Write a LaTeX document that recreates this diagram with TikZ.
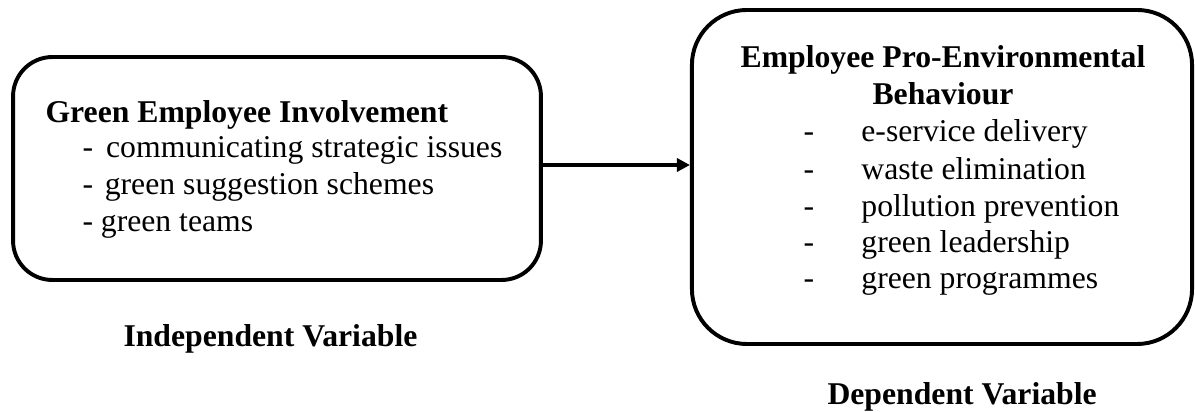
\documentclass[tikz,border=0pt]{standalone}
\usepackage{fontspec}
\setmainfont{Liberation Serif}
\usetikzlibrary{arrows.meta}
\begin{document}
\begin{tikzpicture}[x=0.3817pt,y=-0.3817pt,
  box/.style={draw, line width=1.5pt, inner sep=0pt},
  txt/.style={anchor=base west, inner sep=0pt, font=\fontsize{12.1}{14}\selectfont},
  ttl/.style={anchor=base, inner sep=0pt, font=\fontsize{12.1}{14}\selectfont\bfseries},
  captxt/.style={anchor=base west, inner sep=0pt, font=\fontsize{12.1}{14}\selectfont\bfseries},
  conn/.style={line width=1.5pt, -{Triangle[length=5pt,width=5pt]}}]
\useasboundingbox (0,0) rectangle (1195,412);
% boxes
\node[box, rounded corners=15pt, minimum width=201.5pt, minimum height=85.1pt] (L) at (277,168.5) {};
\node[box, rounded corners=21pt, minimum width=190.9pt, minimum height=127.5pt] (R) at (942,177) {};
% left box text
\node[captxt] (lt) at (45,123) {Green Employee Involvement};
\node[txt] (l1) at (82,158) {-\hspace{5pt}communicating strategic issues};
\node[txt] (l2) at (82,195) {-\hspace{4.5pt}green suggestion schemes};
\node[txt] (l3) at (82,232) {-\hspace{3pt}green teams};
% right box text
\node[ttl] (rt1) at (943,68) {Employee Pro-Environmental};
\node[ttl] (rt2) at (943,105) {Behaviour};
\node[txt] (r1) at (803,142) {\makebox[22.1pt][l]{-}e-service delivery};
\node[txt] (r2) at (803,180) {\makebox[22.1pt][l]{-}waste elimination};
\node[txt] (r3) at (803,217) {\makebox[22.1pt][l]{-}pollution prevention};
\node[txt] (r4) at (803,253) {\makebox[22.1pt][l]{-}green leadership};
\node[txt] (r5) at (803,289) {\makebox[22.1pt][l]{-}green programmes};
% captions
\node[captxt] (iv) at (123,347) {Independent Variable};
\node[captxt] (dv) at (827,405) {Dependent Variable};
% connector
\coordinate (ay) at (0,165);
\draw[conn] (L.east |- ay) -- (R.west |- ay);
\end{tikzpicture}
\end{document}
